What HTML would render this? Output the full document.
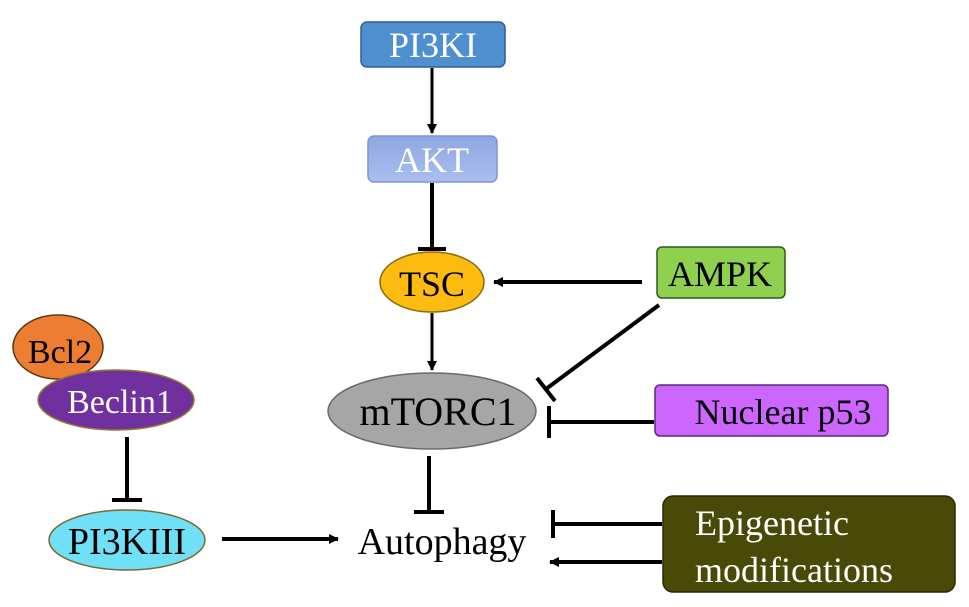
<!DOCTYPE html>
<html><head><meta charset="utf-8"><style>
html,body{margin:0;padding:0;background:#fff;}
svg{display:block;}
text{font-family:"Liberation Serif",serif;}
</style></head><body>
<svg width="969" height="607" viewBox="0 0 969 607" xmlns="http://www.w3.org/2000/svg">
<defs>
<marker id="ah" markerWidth="10" markerHeight="10" refX="9" refY="5" orient="auto" markerUnits="userSpaceOnUse">
<path d="M0,0 L10,5 L0,10 Z" fill="#000"/></marker>
<linearGradient id="akt" x1="0" y1="0" x2="0" y2="1"><stop offset="0" stop-color="#8fa6e0"/><stop offset="1" stop-color="#a9bff0"/></linearGradient>
</defs>
<g stroke="#000" stroke-width="4" fill="none">
<line x1="432" y1="68" x2="432" y2="133" stroke-width="3" marker-end="url(#ah)"/>
<line x1="432" y1="183" x2="432" y2="249"/><line x1="418" y1="249" x2="446" y2="249"/>
<line x1="432" y1="313" x2="432" y2="370" stroke-width="3" marker-end="url(#ah)"/>
<line x1="642" y1="282" x2="494" y2="282" marker-end="url(#ah)"/>
<line x1="659" y1="305" x2="546" y2="389"/><line x1="537" y1="378" x2="555" y2="401"/>
<line x1="654" y1="422" x2="549" y2="422"/><line x1="549" y1="406" x2="549" y2="438"/>
<line x1="429" y1="456" x2="429" y2="512"/><line x1="414" y1="512" x2="444" y2="512"/>
<line x1="127" y1="437" x2="127" y2="500"/><line x1="112" y1="500" x2="142" y2="500"/>
<line x1="222" y1="539" x2="338" y2="539" marker-end="url(#ah)"/>
<line x1="662" y1="524" x2="553" y2="524"/><line x1="553" y1="510" x2="553" y2="538"/>
<line x1="662" y1="562" x2="550" y2="562" marker-end="url(#ah)"/>
</g>
<rect x="361" y="22" width="144" height="45" rx="6" fill="#4f8fd0" stroke="#2f5f94" stroke-width="1.5"/>
<text x="433" y="57" font-size="36" fill="#fff" text-anchor="middle">PI3KI</text>
<rect x="368" y="136" width="129" height="46" rx="6" fill="url(#akt)" stroke="#7d93d8" stroke-width="1.5"/>
<text x="432" y="172" font-size="36" fill="#fff" text-anchor="middle">AKT</text>
<ellipse cx="432" cy="282" rx="52" ry="30" fill="#fdbb0f" stroke="#8a6a10" stroke-width="1.5"/>
<text x="432" y="296" font-size="36" fill="#000" text-anchor="middle">TSC</text>
<rect x="657" y="247" width="128" height="51" rx="5" fill="#8fd14f" stroke="#2d5a1a" stroke-width="1.5"/>
<text x="720" y="286" font-size="36" fill="#000" text-anchor="middle">AMPK</text>
<ellipse cx="432" cy="411" rx="104" ry="38" fill="#a6a6a6" stroke="#6a6a6a" stroke-width="1.5"/>
<text x="438" y="425" font-size="40" fill="#000" text-anchor="middle">mTORC1</text>
<rect x="655" y="385" width="233" height="51" rx="5" fill="#cc66ff" stroke="#5a2a7a" stroke-width="1.5"/>
<text x="783" y="424" font-size="36" fill="#000" text-anchor="middle">Nuclear p53</text>
<ellipse cx="58" cy="347" rx="45" ry="32" fill="#ed7d31" stroke="#5a3a1a" stroke-width="1.5"/>
<text x="60" y="363" font-size="34" fill="#000" text-anchor="middle">Bcl2</text>
<ellipse cx="116" cy="400" rx="78" ry="30" fill="#7030a0" stroke="#9a7a30" stroke-width="1.5"/>
<text x="120" y="413" font-size="34" fill="#fff" text-anchor="middle">Beclin1</text>
<ellipse cx="127" cy="540" rx="78" ry="30" fill="#6fe0f5" stroke="#7a6a30" stroke-width="1.5"/>
<text x="127" y="554" font-size="38" fill="#000" text-anchor="middle">PI3KIII</text>
<text x="442" y="554" font-size="38" fill="#000" text-anchor="middle">Autophagy</text>
<rect x="663" y="496" width="292" height="96" rx="10" fill="#4a4a08" stroke="#2a2a05" stroke-width="1.5"/>
<text x="695" y="535" font-size="36" fill="#fff">Epigenetic</text>
<text x="695" y="582" font-size="36" fill="#fff">modifications</text>
</svg>
</body></html>
